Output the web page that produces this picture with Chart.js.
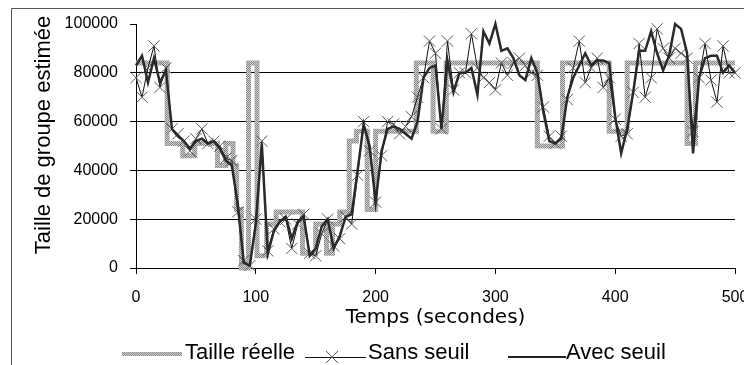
<!DOCTYPE html>
<html>
<head>
<meta charset="utf-8">
<script src="https://cdn.jsdelivr.net/npm/chart.js@4.4.0/dist/chart.umd.min.js"></script>
<style>
  html, body { margin: 0; padding: 0; background: #fff; overflow: hidden; }
</style>
</head>
<body>
<canvas id="LineChart" width="800" height="365"></canvas>
<script>
// temps en secondes (echantillons toutes les 5 s)
const temps = [
  0, 5, 10, 15, 20, 25, 30, 35, 40, 45,
  50, 55, 60, 65, 70, 75, 80, 85, 90, 95,
  100, 105, 110, 115, 120, 125, 130, 135, 140, 145,
  150, 155, 160, 165, 170, 175, 180, 185, 190, 195,
  200, 205, 210, 215, 220, 225, 230, 235, 240, 245,
  250, 255, 260, 265, 270, 275, 280, 285, 290, 295,
  300, 305, 310, 315, 320, 325, 330, 335, 340, 345,
  350, 355, 360, 365, 370, 375, 380, 385, 390, 395,
  400, 405, 410, 415, 420, 425, 430, 435, 440, 445,
  450, 455, 460, 465, 470, 475, 480, 485, 490, 495,
  500
]

const sansSeuil = [
  78000, 70000, 82000, 91000, 74000, 82000, 57000, 55000, 52000, 48000,
  53000, 57000, 51000, 52000, 50000, 45000, 44000, 23000, 3000, 1000,
  20000, 52000, 7000, 16000, 19000, 20000, 8000, 18000, 22000, 6000,
  5000, 14000, 20000, 9000, 12000, 21000, 18000, 38000, 60000, 48000,
  27000, 46000, 60000, 59000, 55000, 58000, 62000, 70000, 78000, 93000,
  88000, 57000, 93000, 73000, 80000, 80000, 96000, 82000, 78000, 76000,
  73000, 84000, 79000, 84000, 86000, 83000, 80000, 79000, 66000, 54000,
  51000, 54000, 69000, 82000, 93000, 76000, 82000, 86000, 74000, 78000,
  61000, 54000, 55000, 72000, 92000, 70000, 78000, 98000, 90000, 86000,
  90000, 88000, 86000, 56000, 78000, 92000, 77000, 68000, 91000, 80000,
  80000
]

const avecSeuil = [
  83000, 87000, 76000, 86000, 76000, 81000, 57000, 54000, 52000, 49000,
  52000, 53000, 51000, 52000, 49000, 44000, 42000, 26000, 2000, 1000,
  18000, 51000, 6000, 15000, 19000, 21000, 12000, 19000, 21000, 5000,
  8000, 17000, 20000, 8000, 13000, 21000, 22000, 40000, 59000, 50000,
  27000, 48000, 57000, 58000, 57000, 55000, 53000, 60000, 78000, 82000,
  83000, 57000, 85000, 72000, 80000, 80000, 82000, 71000, 97000, 92000,
  100000, 89000, 90000, 86000, 79000, 77000, 86000, 80000, 64000, 52000,
  51000, 53000, 70000, 78000, 83000, 88000, 83000, 85000, 85000, 84000,
  62000, 47000, 57000, 72000, 89000, 89000, 97000, 88000, 81000, 87000,
  100000, 98000, 88000, 47000, 78000, 86000, 87000, 87000, 80000, 83000,
  80000
]

// taille reelle : paliers (debut du palier, valeur)
const reelTemps = [0, 26, 39, 49, 68, 75, 81, 84, 88, 94, 101, 109, 117, 139, 150, 159, 164, 170, 178, 184, 193, 200, 234, 248, 259, 335, 356, 395, 410, 460, 467, 500]
const reelTaille = [84000, 51000, 46000, 51000, 42000, 51000, 42000, 24000, 0, 84000, 5000, 18000, 23000, 6000, 18000, 6000, 18000, 23000, 52000, 56000, 24000, 56000, 84000, 56000, 84000, 50000, 84000, 56000, 84000, 51000, 84000, 84000]

const xTicks = [0, 100, 200, 300, 400, 500]
const yTicks = [0, 20000, 40000, 60000, 80000, 100000]

const FONT = '"Liberation Sans", Arial, sans-serif'

// motif tramé gris pour la taille réelle
const makeDither = () => {
    const c = document.createElement('canvas')
    c.width = 2
    c.height = 2
    const g = c.getContext('2d')
    g.fillStyle = '#d2d2d2'
    g.fillRect(0, 0, 2, 2)
    g.fillStyle = '#858585'
    g.fillRect(0, 0, 1, 1)
    g.fillRect(1, 1, 1, 1)
    return g.createPattern(c, 'repeat')
}
const dither = makeDither()

const toPoints = (xs, ys) => xs.map((x, i) => ({x: x, y: ys[i]}))

const decor = {
    id: 'decor',
    beforeDraw(chart) {
        const ctx = chart.ctx
        ctx.save()
        ctx.fillStyle = '#fff'
        ctx.fillRect(0, 0, chart.width, chart.height)
        ctx.strokeStyle = '#555'
        ctx.lineWidth = 1
        ctx.beginPath()
        ctx.moveTo(11.5, chart.height)
        ctx.lineTo(11.5, 8.5)
        ctx.lineTo(chart.width, 8.5)
        ctx.stroke()
        ctx.restore()
    },
    afterDraw(chart) {
        const ctx = chart.ctx
        ctx.save()
        ctx.fillStyle = '#000'

        // titre de l'axe vertical
        ctx.font = '22px ' + FONT
        ctx.textAlign = 'center'
        ctx.textBaseline = 'alphabetic'
        ctx.translate(50, 135)
        ctx.rotate(-Math.PI / 2)
        ctx.fillText('Taille de groupe estimée', 0, 0)
        ctx.setTransform(1, 0, 0, 1, 0, 0)

        // légende
        ctx.textAlign = 'left'
        ctx.font = '22px ' + FONT
        ctx.fillStyle = dither
        ctx.fillRect(122, 352, 60, 4)
        ctx.fillStyle = '#000'
        ctx.fillText('Taille réelle', 185, 359)

        ctx.strokeStyle = '#111'
        ctx.lineWidth = 1
        ctx.beginPath()
        ctx.moveTo(305, 357.5)
        ctx.lineTo(366, 357.5)
        ctx.stroke()
        ctx.strokeStyle = '#555'
        ctx.beginPath()
        ctx.moveTo(326, 351)
        ctx.lineTo(338, 363)
        ctx.moveTo(338, 351)
        ctx.lineTo(326, 363)
        ctx.stroke()
        ctx.fillText('Sans seuil', 368, 359)

        ctx.strokeStyle = '#222'
        ctx.lineWidth = 2
        ctx.beginPath()
        ctx.moveTo(508, 357)
        ctx.lineTo(566, 357)
        ctx.stroke()
        ctx.fillText('Avec seuil', 566, 359)
        ctx.restore()
    }
}

const ctl = document.getElementById('LineChart')
window.groupChart = new Chart(ctl, {
    type: 'line',
    data: {
        datasets: [
            {
                label: 'Avec seuil',
                data: toPoints(temps, avecSeuil),
                borderColor: '#2a2a2a',
                borderWidth: 2.5,
                pointRadius: 0,
                clip: false,
                order: 1
            },
            {
                label: 'Sans seuil',
                data: toPoints(temps, sansSeuil),
                borderColor: '#111',
                borderWidth: 1,
                pointStyle: 'crossRot',
                pointRadius: 8,
                pointBorderColor: '#5a5a5a',
                pointBorderWidth: 1,
                clip: false,
                order: 2
            },
            {
                label: 'Taille réelle',
                data: toPoints(reelTemps, reelTaille),
                stepped: true,
                borderColor: dither,
                borderWidth: 5,
                borderJoinStyle: 'miter',
                borderCapStyle: 'butt',
                pointRadius: 0,
                clip: false,
                order: 3
            }
        ]
    },
    options: {
        responsive: false,
        animation: false,
        devicePixelRatio: 1,
        layout: {
            padding: {left: 0, right: 65, top: 24, bottom: 0}
        },
        plugins: {
            legend: {display: false},
            tooltip: {enabled: false}
        },
        scales: {
            x: {
                type: 'linear',
                min: 0,
                max: 500,
                afterFit: (scale) => { scale.height = 97 },
                afterBuildTicks: (scale) => { scale.ticks = xTicks.map(v => ({value: v})) },
                ticks: {
                    color: '#000',
                    padding: 14,
                    maxRotation: 0,
                    callback: (v) => String(v),
                    font: {family: FONT, size: 16}
                },
                grid: {
                    drawOnChartArea: false,
                    tickLength: 6,
                    color: '#000'
                },
                border: {color: '#000'},
                title: {
                    display: true,
                    text: 'Temps (secondes)',
                    color: '#000',
                    font: {family: '"DejaVu Sans", sans-serif', size: 20},
                    padding: {top: 0, bottom: 35}
                }
            },
            y: {
                min: 0,
                max: 100000,
                afterFit: (scale) => { scale.width = 136 },
                afterBuildTicks: (scale) => { scale.ticks = yTicks.map(v => ({value: v})) },
                ticks: {
                    color: '#000',
                    padding: 12,
                    callback: (v) => String(v),
                    font: {family: FONT, size: 16}
                },
                grid: {
                    color: (c) => (c.tick && c.tick.value === 100000) ? 'rgba(0,0,0,0)' : '#000',
                    tickColor: '#000',
                    tickLength: 6
                },
                border: {color: '#000'}
            }
        }
    },
    plugins: [decor]
})
</script>
</body>
</html>
